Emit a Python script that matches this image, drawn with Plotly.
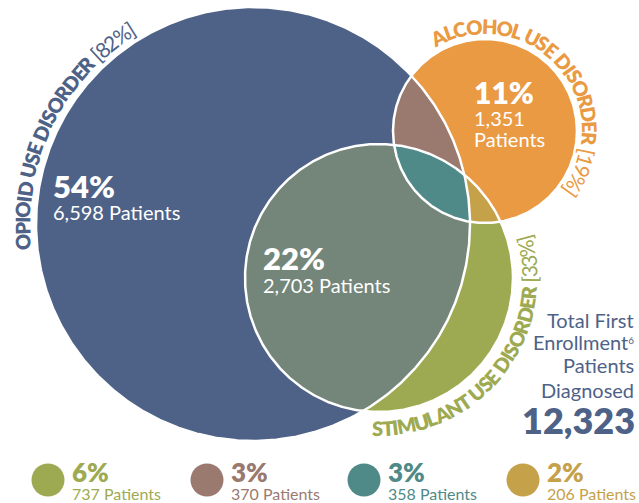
import numpy as np
import plotly.graph_objects as go

# ---------------- data ----------------
set_names = ["OPIOID USE DISORDER", "ALCOHOL USE DISORDER", "STIMULANT USE DISORDER"]
set_shares = ["[82%]", "[19%]", "[33%]"]

# regions: O = opioid only, A = alcohol only, OS = opioid+stimulant,
# S = stimulant only, OA = opioid+alcohol, OAS = all three, AS = alcohol+stimulant
region_keys = ["O", "A", "OS", "S", "OA", "OAS", "AS"]
region_pcts = [54, 11, 22, 6, 3, 3, 2]
region_patients = [6598, 1351, 2703, 737, 370, 358, 206]
total_patients = 12323

# legend shows the small regions only
legend_keys = ["S", "OA", "OAS", "AS"]

# ---------------- styling / geometry (pixel space) ----------------
W, H = 639, 503
circles = {"O": (253, 224, 217), "A": (485, 131, 92), "S": (379, 278, 134)}
colors = {
    "O": "#4E6287", "A": "#E99A42", "S": "#9EAA51",
    "OS": "#74857A", "OA": "#9A7A6F", "AS": "#C5A14A", "OAS": "#4F8A88",
}
label_colors = {"O": "#4E6287", "A": "#E99A42", "S": "#9EAA51"}

BOLD_W = {"A": .70, "C": .67, "D": .76, "E": .57, "H": .77, "I": .30, "L": .51,
          "M": .93, "N": .77, "O": .81, "P": .63, "R": .64, "S": .54, "T": .59,
          "U": .74, " ": .22}
LIGHT_W = {"[": .30, "]": .30, "%": .80, " ": .22}


def char_w(ch, bold):
    if bold:
        return BOLD_W.get(ch, .65)
    return LIGHT_W.get(ch, .58)


def region(keys, n=1440):
    pts = []
    t = np.linspace(0, 2 * np.pi, n, endpoint=False)
    for k in keys:
        cx, cy, r = circles[k]
        x = cx + r * np.cos(t)
        y = cy + r * np.sin(t)
        ok = np.ones(n, bool)
        for j in keys:
            if j == k:
                continue
            jx, jy, jr = circles[j]
            ok &= (x - jx) ** 2 + (y - jy) ** 2 <= jr ** 2 + 1e-6
        pts.append(np.c_[x[ok], y[ok]])
    p = np.vstack(pts)
    c = p.mean(axis=0)
    p = p[np.argsort(np.arctan2(p[:, 1] - c[1], p[:, 0] - c[0]))]
    return np.r_[p, p[:1]]


fig = go.Figure()

# painter's order: full circles, then pairwise lenses, then the triple lens
for key in ["O", "A", "S", "OS", "OA", "AS", "OAS"]:
    p = region(list(key))
    fig.add_trace(go.Scatter(x=p[:, 0], y=p[:, 1], mode="lines", fill="toself",
                             fillcolor=colors[key], line=dict(width=0),
                             hoverinfo="skip"))

# white outlines
t = np.linspace(0, 2 * np.pi, 721)
for k, (cx, cy, r) in circles.items():
    fig.add_trace(go.Scatter(x=cx + r * np.cos(t), y=cy + r * np.sin(t), mode="lines",
                             line=dict(color="white", width=2.5), hoverinfo="skip"))

annotations = []


def arc_text(name, share, circ, R, a0, a1, color, size, outward=True):
    cx, cy, _ = circles[circ]
    chars = [(c, True) for c in name + " "] + [(c, False) for c in share]
    widths = np.array([char_w(c, b) for c, b in chars])
    pos = np.cumsum(widths) - widths / 2
    total = widths.sum()
    for (ch, bold), p in zip(chars, pos):
        if ch == " ":
            continue
        th = np.radians(a0 + (a1 - a0) * p / total)
        ang = np.degrees(th)
        rot = 90 - ang if outward else -(ang + 90)
        annotations.append(dict(
            x=cx + R * np.cos(th), y=cy - R * np.sin(th), text=ch, textangle=rot,
            showarrow=False, xanchor="center", yanchor="middle",
            font=dict(family="Lato", size=size if bold else size + 1, color=color,
                      weight=800 if bold else 400)))


arc_text(set_names[0], set_shares[0], "O", 231, 186.5, 121.5, label_colors["O"], 20)
arc_text(set_names[1], set_shares[1], "A", 105, 120, -37, label_colors["A"], 20)
arc_text(set_names[2], set_shares[2], "S", 150, -92.5, 16, label_colors["S"], 20, outward=False)


def add_text(x, y, text, size, color, bold=False, anchor="left"):
    annotations.append(dict(x=x, y=y, text=text, showarrow=False, xanchor=anchor,
                            yanchor="middle", align=anchor,
                            font=dict(family="Lato", size=size, color=color,
                                      weight=800 if bold else 400)))


pct = dict(zip(region_keys, region_pcts))
pts = dict(zip(region_keys, region_patients))

# labels inside the big regions
add_text(51, 186, f"{pct['O']}%", 31, "white", bold=True)
add_text(51, 212, f"{pts['O']:,} Patients", 20, "white")
add_text(261, 258, f"{pct['OS']}%", 31, "white", bold=True)
add_text(261, 285, f"{pts['OS']:,} Patients", 20, "white")
add_text(472, 92, f"{pct['A']}%", 30, "white", bold=True)
add_text(472, 118, f"{pts['A']:,}", 20, "white")
add_text(472, 139, "Patients", 20, "white")

# total block
blue = label_colors["O"]
add_text(636, 320, "Total First", 20, blue, anchor="right")
add_text(636, 342, "Enrollment<span style='font-size:14px'><sup>6</sup></span>", 20, blue,
         anchor="right")
add_text(636, 365, "Patients", 20, blue, anchor="right")
add_text(636, 390, "Diagnosed", 20, blue, anchor="right")
add_text(637, 420, f"{total_patients:,}", 36, blue, bold=True, anchor="right")

# legend for small regions
legend_x = [48, 207, 364, 523]
for key, lx in zip(legend_keys, legend_x):
    fig.add_trace(go.Scatter(x=[lx], y=[480], mode="markers",
                             marker=dict(size=33, color=colors[key], line=dict(width=0)),
                             hoverinfo="skip"))
    add_text(lx + 22, 472, f"{pct[key]}%", 26, colors[key], bold=True)
    add_text(lx + 22, 493, f"{pts[key]:,} Patients", 16, colors[key])

fig.update_layout(
    width=W, height=H, margin=dict(l=0, r=0, t=0, b=0),
    paper_bgcolor="white", plot_bgcolor="white", showlegend=False,
    font=dict(family="Lato"),
    xaxis=dict(range=[0, W], visible=False, fixedrange=True),
    yaxis=dict(range=[H, 0], visible=False, fixedrange=True),
    annotations=annotations,
)

fig.write_html("out.html", config={"displayModeBar": False},
               post_script="document.body.style.margin='0';")
